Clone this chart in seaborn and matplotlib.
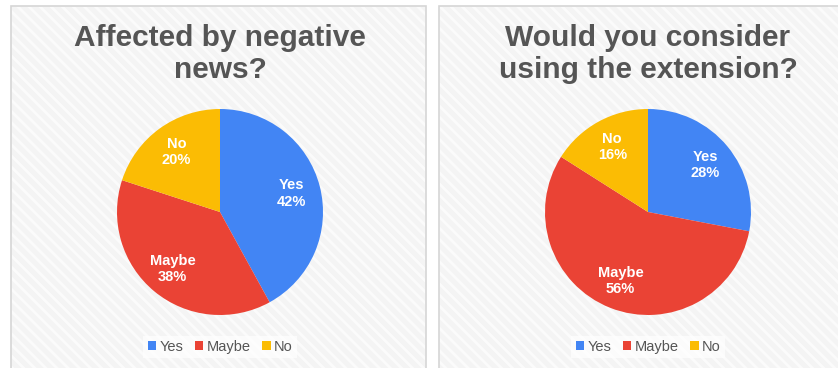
import matplotlib
matplotlib.use("Agg")
import matplotlib.pyplot as plt
import seaborn as sns
from matplotlib.patches import Rectangle, Patch

# Datos de las encuestas
categories = ["Yes", "Maybe", "No"]
affected = [42, 38, 20]
consider = [28, 56, 16]
titles = ["Affected by negative\nnews?", "Would you consider\nusing the extension?"]
colors = ["#4285F4", "#EA4335", "#FBBC04"]

sns.set_theme(style="white")
plt.rcParams["font.family"] = ["Liberation Sans", "DejaVu Sans"]
plt.rcParams["hatch.linewidth"] = 2.0

W, H = 838, 368
fig = plt.figure(figsize=(W / 100, H / 100), dpi=100)
fig.patch.set_facecolor("white")

def fx(px):
    return px / W

def fy(py):
    return 1 - py / H

# Paneles de fondo
for x0, x1 in [(11, 426), (439, 845)]:
    fig.patches.append(Rectangle((fx(x0), fy(372)), fx(x1 - x0), (372 - 6) / H,
                                 transform=fig.transFigure, facecolor="#f4f4f4",
                                 edgecolor="#d6d6d6", lw=1.2, zorder=-10))
    fig.patches.append(Rectangle((fx(x0 + 1), fy(372)), fx(x1 - x0 - 2), (372 - 7) / H,
                                 transform=fig.transFigure, facecolor="none",
                                 edgecolor="#fbfbfb", hatch="\\\\\\", lw=0, zorder=-9))

r = 103
for cx, values, title in [(220, affected, titles[0]), (648, consider, titles[1])]:
    ax = fig.add_axes([fx(cx - r), fy(212 + r), fx(2 * r), 2 * r / H])
    ax.set_zorder(5)
    wedges, _, autotexts = ax.pie(values, colors=colors, startangle=90, counterclock=False,
                                  autopct="%d%%", pctdistance=0.72,
                                  wedgeprops=dict(linewidth=0))
    for t, cat, v in zip(autotexts, categories, values):
        t.set_text(f"{cat}\n{v}%")
        t.set_color("white")
        t.set_fontweight("bold")
        t.set_fontsize(10.5)
        t.set_linespacing(1.2)
    ax.set_xlim(-1, 1)
    ax.set_ylim(-1, 1)
    ax.set_aspect("equal")
    ax.patch.set_alpha(0)

    fig.text(fx(cx), fy(54), title, ha="center", va="center", fontsize=21.5,
             fontweight="bold", color="#555555", linespacing=1.17)

    handles = [Patch(facecolor=c, edgecolor="none") for c in colors]
    fig.legend(handles, categories, loc="center", bbox_to_anchor=(fx(cx), fy(347)),
               ncol=3, frameon=True, facecolor="white", edgecolor="none", framealpha=0.7,
               fontsize=10.5, handlelength=0.6, handleheight=0.6, handletextpad=0.2,
               columnspacing=0.8, borderpad=0.3, labelcolor="#555555", fancybox=False)

plt.savefig("out.png", dpi=100)
